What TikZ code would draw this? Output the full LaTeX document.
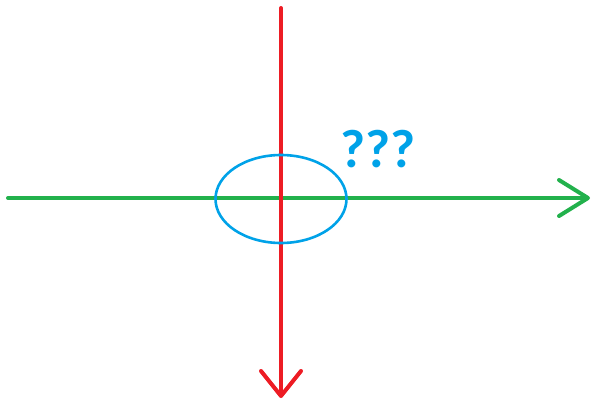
\documentclass[tikz,border=0pt]{standalone}
\usepackage{fontspec}
\setsansfont{Carlito}
\usetikzlibrary{arrows.meta,shapes.geometric}
\definecolor{paintgreen}{RGB}{34,177,76}
\definecolor{paintred}{RGB}{237,28,36}
\definecolor{paintblue}{RGB}{0,162,232}

\begin{document}
\begin{tikzpicture}[
	x=1pt, y=-1pt,
	axis/.style={line width=4pt, line cap=round},
	ring/.style={draw=paintblue, ellipse, line width=2.6pt, inner sep=0pt, minimum width=131pt, minimum height=88pt},
	query/.style={text=paintblue, font=\sffamily\bfseries\fontsize{54}{54}\selectfont, inner sep=0pt}
]
\useasboundingbox (0,0) rectangle (593,401);
\coordinate (west) at (8,198);
\coordinate (east) at (590,198);
\coordinate (north) at (281,8);
\coordinate (south) at (281,398);
\draw[axis, paintgreen, -{Straight Barb[length=29pt, width=36pt, line cap=round, line join=round]}] (west) -- (east);
\draw[axis, paintred, -{Straight Barb[length=25pt, width=40pt, line cap=round, line join=round]}] (north) -- (south);
\node[ring] (spot) at (281,199) {};
\node[query] (ask) at (378,149) {???};
\end{tikzpicture}
\end{document}
